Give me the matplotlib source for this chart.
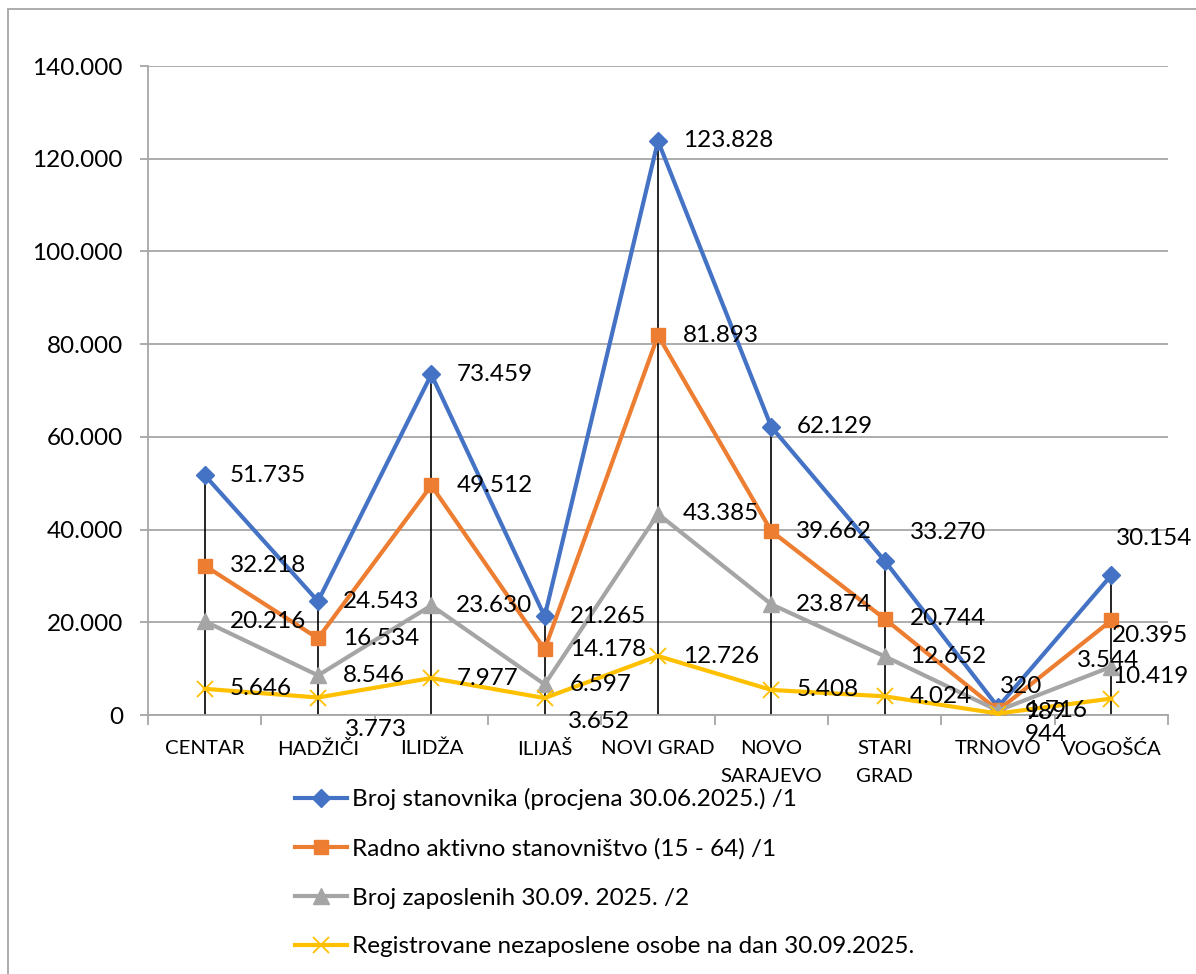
import matplotlib
matplotlib.use("Agg")
import matplotlib.pyplot as plt
from matplotlib.patches import Rectangle
import numpy as np

# data
municipalities = ["CENTAR", "HADŽIČI", "ILIDŽA", "ILIJAŠ", "NOVI GRAD",
                  "NOVO\nSARAJEVO", "STARI\nGRAD", "TRNOVO", "VOGOŠĆA"]
population = [51735, 24543, 73459, 21265, 123828, 62129, 33270, 1716, 30154]
working_age = [32218, 16534, 49512, 14178, 81893, 39662, 20744, 989, 20395]
employed = [20216, 8546, 23630, 6597, 43385, 23874, 12652, 944, 10419]
unemployed = [5646, 3773, 7977, 3652, 12726, 5408, 4024, 320, 3544]

series_names = ["Broj stanovnika (procjena 30.06.2025.) /1",
                "Radno aktivno stanovništvo (15 - 64) /1",
                "Broj zaposlenih 30.09. 2025. /2",
                "Registrovane nezaposlene osobe na dan 30.09.2025."]

plt.rcParams['font.family'] = ['Lato', 'DejaVu Sans']
FS = 17.5

W, H = 1196, 974
fig = plt.figure(figsize=(W / 100, H / 100), dpi=100)
ax = fig.add_axes([148 / W, 1 - 715 / H, 1020 / W, (715 - 66) / H])

# outer chart border
fig.patches.append(Rectangle((8 / W, -0.05), 1.2, 1 - 9 / H + 0.05, transform=fig.transFigure,
                             fill=False, edgecolor="#A6A6A6", linewidth=1.3))

x = np.arange(len(municipalities))
all_series = [population, working_age, employed, unemployed]
styles = [
    dict(color="#4472C4", marker="D", markersize=9),
    dict(color="#ED7D31", marker="s", markersize=10.5),
    dict(color="#A5A5A5", marker="^", markersize=11),
    dict(color="#FFC000", marker="x", markersize=11, markeredgewidth=1.3),
]

# drop lines from the highest point down to the axis
ax.vlines(x, 0, np.max(all_series, axis=0), color="black", linewidth=1.2, zorder=2)

for vals, name, st in zip(all_series, series_names, styles):
    ax.plot(x, vals, linewidth=3, label=name, zorder=3, **st)

# label offsets in pixels (default: to the right of the point)
default_off = (25, 0)
label_off = {
    (3, 1): (27, -32),
    (3, 3): (23, -23),
    (0, 6): (25, 28),
    (0, 8): (5, 37),
    (1, 8): (1, -15),
    (2, 8): (1, -10),
    (3, 8): (-34, 38),
    (0, 7): (27, -3),
    (1, 7): (27, -2),
    (2, 7): (27, -24),
    (3, 7): (2, 27),
}
for si, vals in enumerate(all_series):
    for ci, v in enumerate(vals):
        dx, dy = label_off.get((si, ci), default_off)
        ax.annotate(f"{v:,}".replace(",", "."), (ci, v), xytext=(dx, dy),
                    textcoords="offset pixels", ha="left", va="center",
                    fontsize=FS, color="black", zorder=5)

ax.set_xlim(-0.5, len(municipalities) - 0.5)
ax.set_ylim(0, 140000)
ax.set_yticks(np.arange(0, 140001, 20000))
ax.yaxis.set_major_formatter(matplotlib.ticker.FuncFormatter(
    lambda v, p: f"{int(v):,}".replace(",", ".")))
ax.grid(axis="y", color="#A6A6A6", linewidth=1.3)
ax.set_axisbelow(True)

ax.set_xticks(x)
ax.set_xticklabels(municipalities, fontsize=14.7, linespacing=1.75, va="top")
ax.set_xticks(np.arange(-0.5, len(municipalities)), minor=True)
ax.tick_params(axis="x", which="major", length=0, pad=18)
ax.tick_params(axis="x", which="minor", length=7, color="#A6A6A6", width=1.3)
ax.tick_params(axis="y", length=6, color="#A6A6A6", width=1.3, labelsize=FS, pad=12)

for s in ["top", "right"]:
    ax.spines[s].set_visible(False)
for s in ["left", "bottom"]:
    ax.spines[s].set_color("#A6A6A6")
    ax.spines[s].set_linewidth(1.3)

fig.legend(loc="upper left", bbox_to_anchor=(295 / W, 1 - 788 / H), frameon=False,
           fontsize=FS, handlelength=2.14, handletextpad=0.22, labelspacing=1.15,
           borderpad=0, borderaxespad=0)

fig.savefig("out.png", dpi=100)
